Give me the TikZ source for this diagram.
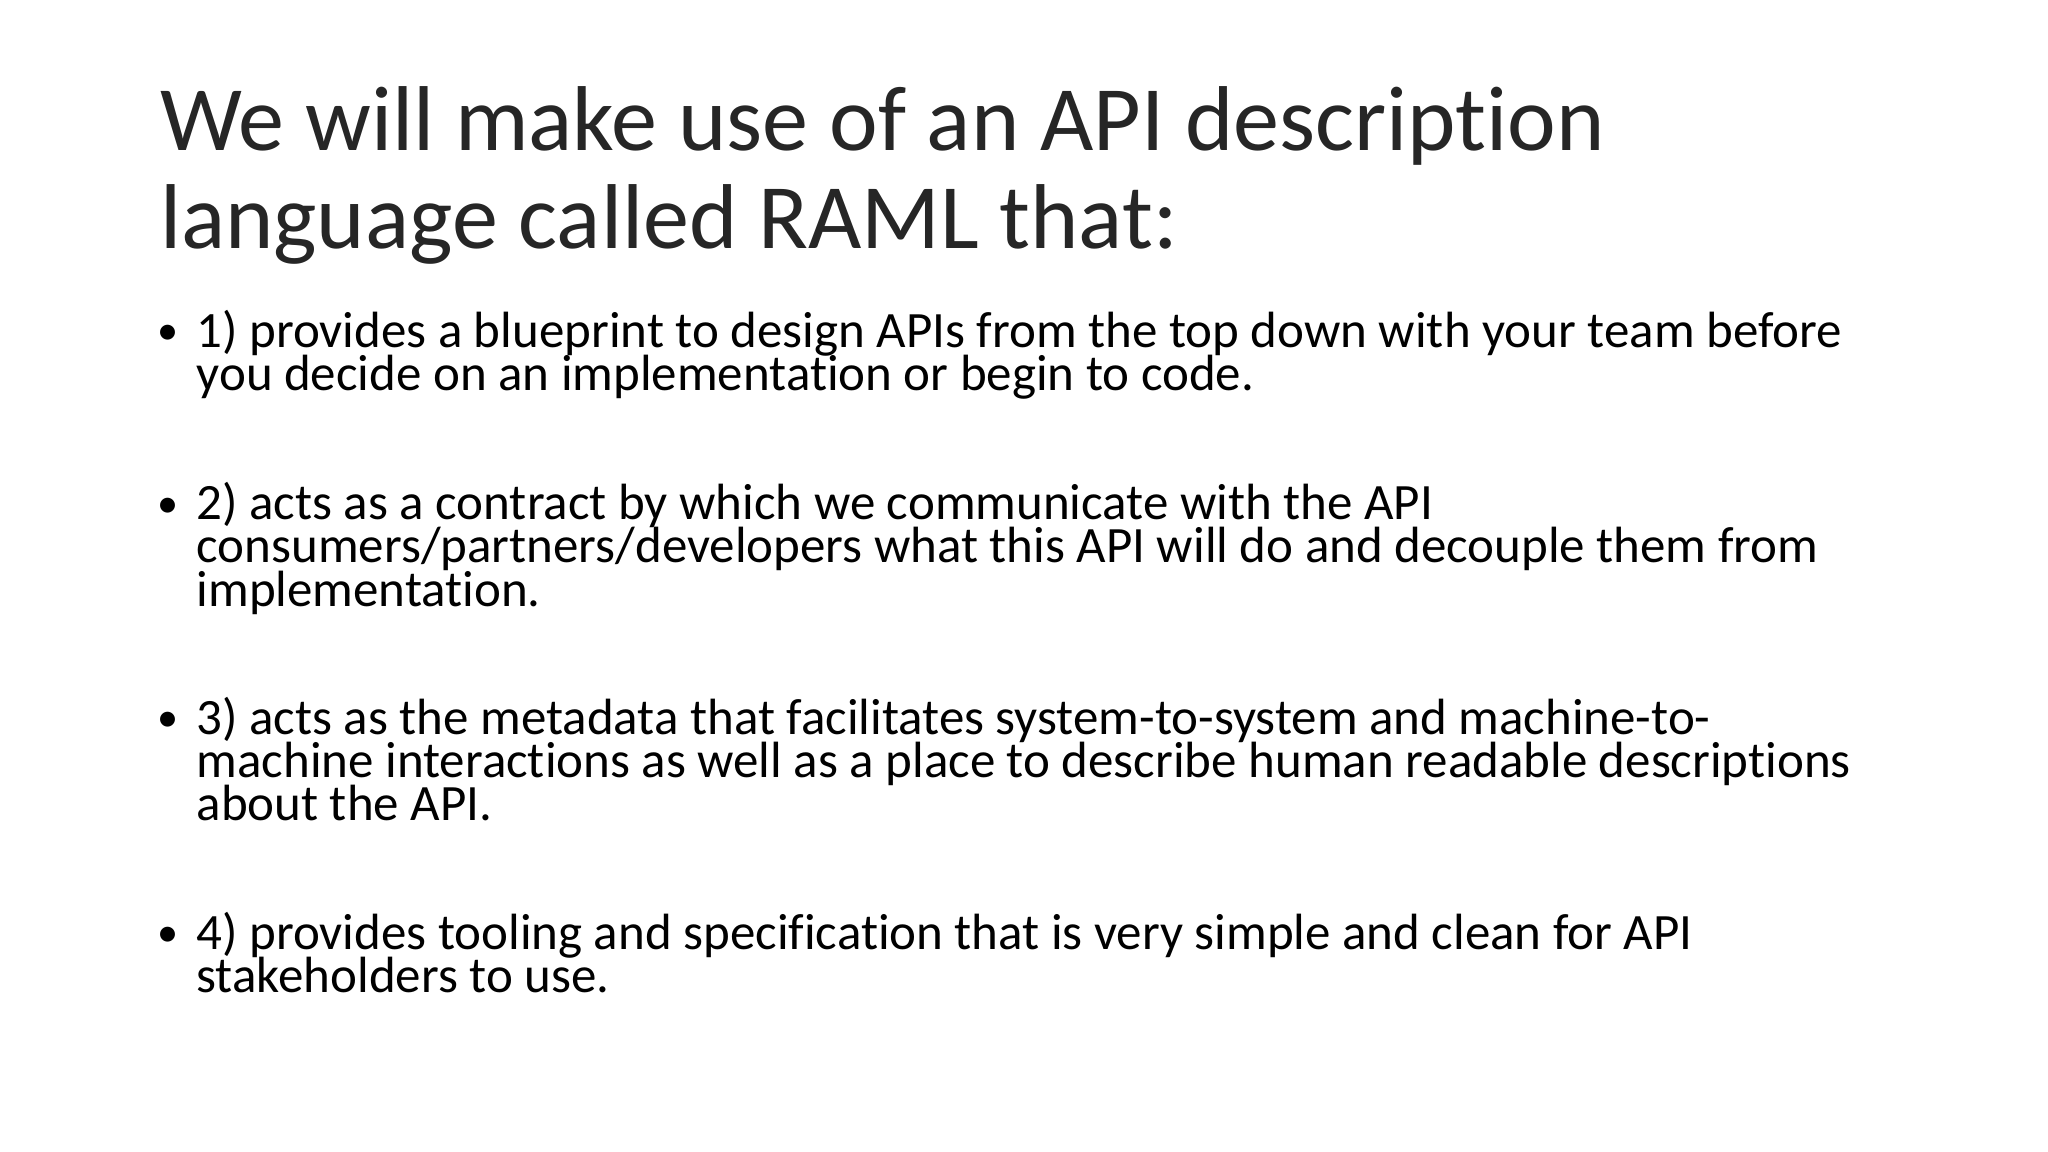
\documentclass[tikz,border=0pt]{standalone}
\usepackage{fontspec}
\setmainfont{Carlito}[RawFeature=-liga]
\begin{document}
\begin{tikzpicture}[x=0.0130612cm,y=-0.0130612cm,
  ttl/.style={anchor=base west,inner sep=0,font=\fontsize{26.2}{30}\selectfont,text=black!85},
  txt/.style={anchor=base west,inner sep=0,font=\fontsize{14.5}{17}\selectfont},
  bul/.style={anchor=base west,inner sep=0,font=\fontsize{12}{15}\selectfont}]
\useasboundingbox (0,0) rectangle (1568,882);
\fill[white] (0,0) rectangle (1568,882);
\node[ttl] (t1) at (122,115) {We will make use of an API description};
\node[ttl] (t2) at (122,190) {language called RAML that:};
\node[bul] (b1) at (120,264) {•};
\node[txt] (l11) at (150,266) {1) provides a blueprint to design APIs from the top down with your team before};
\node[txt] (l12) at (150,299) {you decide on an implementation or begin to code.};
\node[bul] (b2) at (120,396) {•};
\node[txt] (l21) at (150,398) {2) acts as a contract by which we communicate with the API};
\node[txt] (l22) at (150,431) {consumers/partners/developers what this API will do and decouple them from};
\node[txt] (l23) at (150,464) {implementation.};
\node[bul] (b3) at (120,560) {•};
\node[txt] (l31) at (150,562) {3) acts as the metadata that facilitates system-to-system and machine-to-};
\node[txt] (l32) at (150,595) {machine interactions as well as a place to describe human readable descriptions};
\node[txt] (l33) at (150,628) {about the API.};
\node[bul] (b4) at (120,725) {•};
\node[txt] (l41) at (150,727) {4) provides tooling and specification that is very simple and clean for API};
\node[txt] (l42) at (150,760) {stakeholders to use.};
\end{tikzpicture}
\end{document}
